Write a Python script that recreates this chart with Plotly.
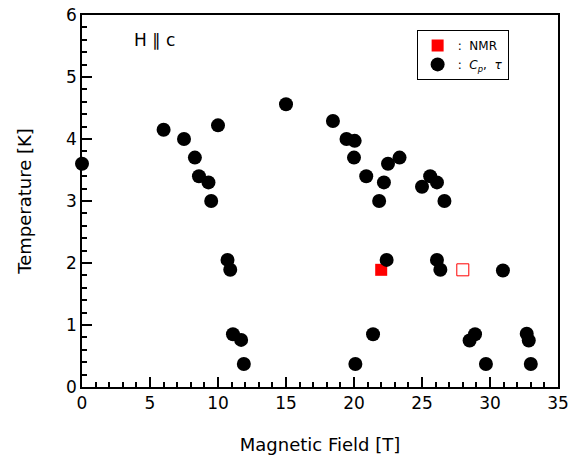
import plotly.graph_objects as go

# C_p, tau data (field in T, temperature in K)
cp_field = [0.0, 6.0, 7.5, 8.3, 8.6, 9.3, 9.5, 10.0, 10.7, 10.9, 11.1, 11.7, 11.9,
            15.0, 18.45, 19.45, 20.05, 20.0, 20.9, 21.85, 22.2, 22.5, 23.35,
            25.0, 25.6, 26.1, 26.65, 22.4, 26.1, 26.35, 30.95,
            21.4, 20.1, 28.9, 28.5, 29.7, 32.7, 32.85, 33.0]
cp_temp = [3.6, 4.15, 4.0, 3.7, 3.4, 3.3, 3.0, 4.22, 2.05, 1.89, 0.85, 0.76, 0.37,
           4.56, 4.29, 4.0, 3.97, 3.7, 3.4, 3.0, 3.3, 3.6, 3.7,
           3.23, 3.4, 3.3, 3.0, 2.05, 2.05, 1.89, 1.88,
           0.85, 0.37, 0.85, 0.75, 0.37, 0.86, 0.75, 0.37]

# NMR data
nmr_field = [22.0]
nmr_temp = [1.89]
nmr_open_field = [28.0]
nmr_open_temp = [1.89]

FONT = "DejaVu Sans"

fig = go.Figure()

fig.add_trace(go.Scatter(
    x=nmr_field, y=nmr_temp, mode="markers",
    marker=dict(symbol="square", size=12, color="red", line=dict(width=0)),
    name=":  NMR", cliponaxis=False,
))
fig.add_trace(go.Scatter(
    x=cp_field, y=cp_temp, mode="markers",
    marker=dict(symbol="circle", size=14, color="black", line=dict(width=0)),
    name=":  <i>C</i><sub><i>p</i></sub>,  <i>τ</i>", cliponaxis=False,
))
fig.add_trace(go.Scatter(
    x=nmr_open_field, y=nmr_open_temp, mode="markers",
    marker=dict(symbol="square-open", size=12, color="red", line=dict(width=1)),
    showlegend=False, cliponaxis=False,
))

axis_common = dict(
    showgrid=False, zeroline=False, showline=True, linecolor="black",
    linewidth=1.5, mirror=True, ticks="inside", ticklen=10, tickwidth=1.5,
    tickcolor="black", tickfont=dict(family=FONT, size=17, color="black"),
    automargin=False, ticklabeloverflow="allow",
)

fig.update_xaxes(
    range=[0, 35], dtick=5,
    minor=dict(dtick=1, ticks="inside", ticklen=5, tickwidth=1.5, tickcolor="black"),
    title=dict(text="Magnetic Field [T]", font=dict(family=FONT, size=18, color="black"),
               standoff=26),
    **axis_common,
)
fig.update_yaxes(
    range=[0, 6], dtick=1,
    minor=dict(dtick=0.2, ticks="inside", ticklen=5, tickwidth=1.5, tickcolor="black"),
    title=dict(text="Temperature [K]", font=dict(family=FONT, size=18, color="black"),
               standoff=30),
    **axis_common,
)

fig.add_annotation(
    x=0.105, y=0.933, xref="paper", yref="paper", xanchor="left", yanchor="middle",
    text="H ∥ c", showarrow=False, font=dict(family=FONT, size=17, color="black"),
)

# page body adds an 8px offset, so margins are shifted to compensate
fig.update_layout(
    width=578, height=459,
    margin=dict(l=74, r=28, t=7, b=80),
    plot_bgcolor="white", paper_bgcolor="white",
    legend=dict(x=0.703, y=0.96, xanchor="left", yanchor="top",
                bordercolor="black", borderwidth=1, bgcolor="white",
                font=dict(family=FONT, size=12, color="black"),
                itemwidth=30, tracegroupgap=0),
)

fig.write_html("out.html")
